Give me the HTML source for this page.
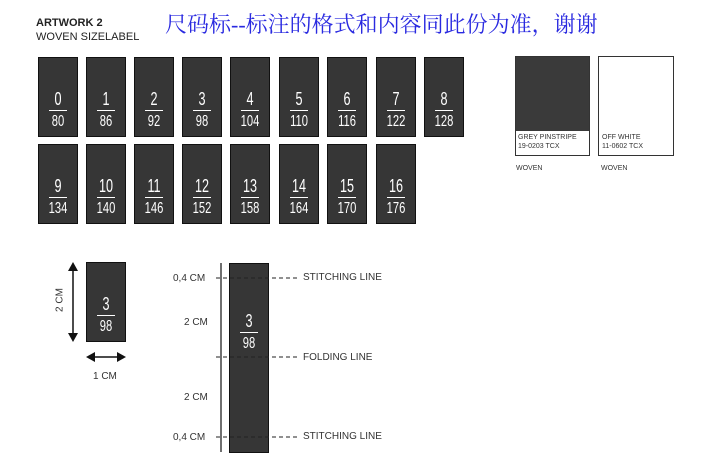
<!DOCTYPE html>
<html><head><meta charset="utf-8"><style>
body{margin:0;width:706px;height:476px;background:#fff;position:relative;overflow:hidden;font-family:"Liberation Sans",sans-serif;color:#222}
.a{position:absolute}
.l{position:absolute;width:40px;height:80px;background:#363636;border:1px solid #111;box-sizing:border-box;color:#fff;font-family:"Liberation Sans",sans-serif}
.l .t{position:absolute;left:0;right:0;top:32px;text-align:center;font-size:18px;line-height:18px;transform:scaleX(0.7)}
.l .b{position:absolute;left:0;right:0;top:56px;text-align:center;font-size:16px;line-height:16px;transform:scaleX(0.7)}
.l .r{position:absolute;left:10px;right:10px;top:52px;height:1px;background:#fff}
.s{font-size:11px;color:#333}
</style></head><body>
<div class="a" style="left:36px;top:17px;font-size:11px;font-weight:bold">ARTWORK 2</div>
<div class="a" style="left:36px;top:31px;font-size:11px">WOVEN SIZELABEL</div>
<div class="a" style="left:165px;top:8px;font-size:22px;color:#2a2ae0;font-family:'Liberation Serif','Noto Serif CJK SC',serif">尺码标--标注的格式和内容同此份为准，谢谢</div>

<div class="l" style="left:38px;top:57px"><div class="t">0</div><div class="r"></div><div class="b">80</div></div>
<div class="l" style="left:86px;top:57px"><div class="t">1</div><div class="r"></div><div class="b">86</div></div>
<div class="l" style="left:134px;top:57px"><div class="t">2</div><div class="r"></div><div class="b">92</div></div>
<div class="l" style="left:182px;top:57px"><div class="t">3</div><div class="r"></div><div class="b">98</div></div>
<div class="l" style="left:230px;top:57px"><div class="t">4</div><div class="r"></div><div class="b">104</div></div>
<div class="l" style="left:279px;top:57px"><div class="t">5</div><div class="r"></div><div class="b">110</div></div>
<div class="l" style="left:327px;top:57px"><div class="t">6</div><div class="r"></div><div class="b">116</div></div>
<div class="l" style="left:376px;top:57px"><div class="t">7</div><div class="r"></div><div class="b">122</div></div>
<div class="l" style="left:424px;top:57px"><div class="t">8</div><div class="r"></div><div class="b">128</div></div>

<div class="l" style="left:38px;top:144px"><div class="t">9</div><div class="r"></div><div class="b">134</div></div>
<div class="l" style="left:86px;top:144px"><div class="t">10</div><div class="r"></div><div class="b">140</div></div>
<div class="l" style="left:134px;top:144px"><div class="t">11</div><div class="r"></div><div class="b">146</div></div>
<div class="l" style="left:182px;top:144px"><div class="t">12</div><div class="r"></div><div class="b">152</div></div>
<div class="l" style="left:230px;top:144px"><div class="t">13</div><div class="r"></div><div class="b">158</div></div>
<div class="l" style="left:279px;top:144px"><div class="t">14</div><div class="r"></div><div class="b">164</div></div>
<div class="l" style="left:327px;top:144px"><div class="t">15</div><div class="r"></div><div class="b">170</div></div>
<div class="l" style="left:376px;top:144px"><div class="t">16</div><div class="r"></div><div class="b">176</div></div>

<div class="a" style="left:515px;top:56px;width:75px;height:100px;border:1px solid #333;box-sizing:border-box;background:#fff">
<div style="height:74px;background:#3a3a3a"></div>
<div style="font-size:7px;line-height:9px;padding:2px 0 0 2px;color:#333">GREY PINSTRIPE<br>19-0203 TCX</div></div>
<div class="a" style="left:598px;top:56px;width:76px;height:100px;border:1px solid #333;box-sizing:border-box;background:#fff">
<div style="height:74px"></div>
<div style="font-size:7px;line-height:9px;padding:2px 0 0 3px;color:#333">OFF WHITE<br>11-0602 TCX</div></div>
<div class="a" style="left:516px;top:165px;font-size:7px;color:#333">WOVEN</div>
<div class="a" style="left:601px;top:165px;font-size:7px;color:#333">WOVEN</div>

<div class="l" style="left:86px;top:262px"><div class="t" style="top:32px">3</div><div class="r" style="top:52px"></div><div class="b">98</div></div>
<div class="l" style="left:229px;top:263px;height:190px"><div class="t" style="top:48px">3</div><div class="r" style="top:68px"></div><div class="b" style="top:72px">98</div></div>

<svg class="a" style="left:0;top:0" width="706" height="476">
<g stroke="#111" stroke-width="1.5" fill="#111">
<line x1="73" y1="268" x2="73" y2="336"/>
<polygon points="73,262 68,271 78,271" stroke="none"/>
<polygon points="73,342 68,333 78,333" stroke="none"/>
<line x1="92" y1="357" x2="120" y2="357"/>
<polygon points="86,357 95,352 95,362" stroke="none"/>
<polygon points="126,357 117,352 117,362" stroke="none"/>
<line x1="221" y1="263" x2="221" y2="452" stroke-width="1.2"/>
</g>
<g stroke="#222" stroke-width="1" stroke-dasharray="4,3">
<line x1="216" y1="278" x2="300" y2="278"/>
<line x1="216" y1="357" x2="300" y2="357"/>
<line x1="216" y1="437" x2="300" y2="437"/>
</g>
</svg>
<div class="a s" style="left:60px;top:300px;transform:translate(-50%,-50%) rotate(-90deg);font-size:10px">2&nbsp;CM</div>
<div class="a s" style="left:93px;top:371px;font-size:10px">1 CM</div>
<div class="a s" style="left:173px;top:273px;font-size:10px">0,4 CM</div>
<div class="a s" style="left:184px;top:317px;font-size:10px">2 CM</div>
<div class="a s" style="left:184px;top:392px;font-size:10px">2 CM</div>
<div class="a s" style="left:173px;top:432px;font-size:10px">0,4 CM</div>
<div class="a s" style="left:303px;top:272px;font-size:10px">STITCHING LINE</div>
<div class="a s" style="left:303px;top:352px;font-size:10px">FOLDING LINE</div>
<div class="a s" style="left:303px;top:431px;font-size:10px">STITCHING LINE</div>
</body></html>
